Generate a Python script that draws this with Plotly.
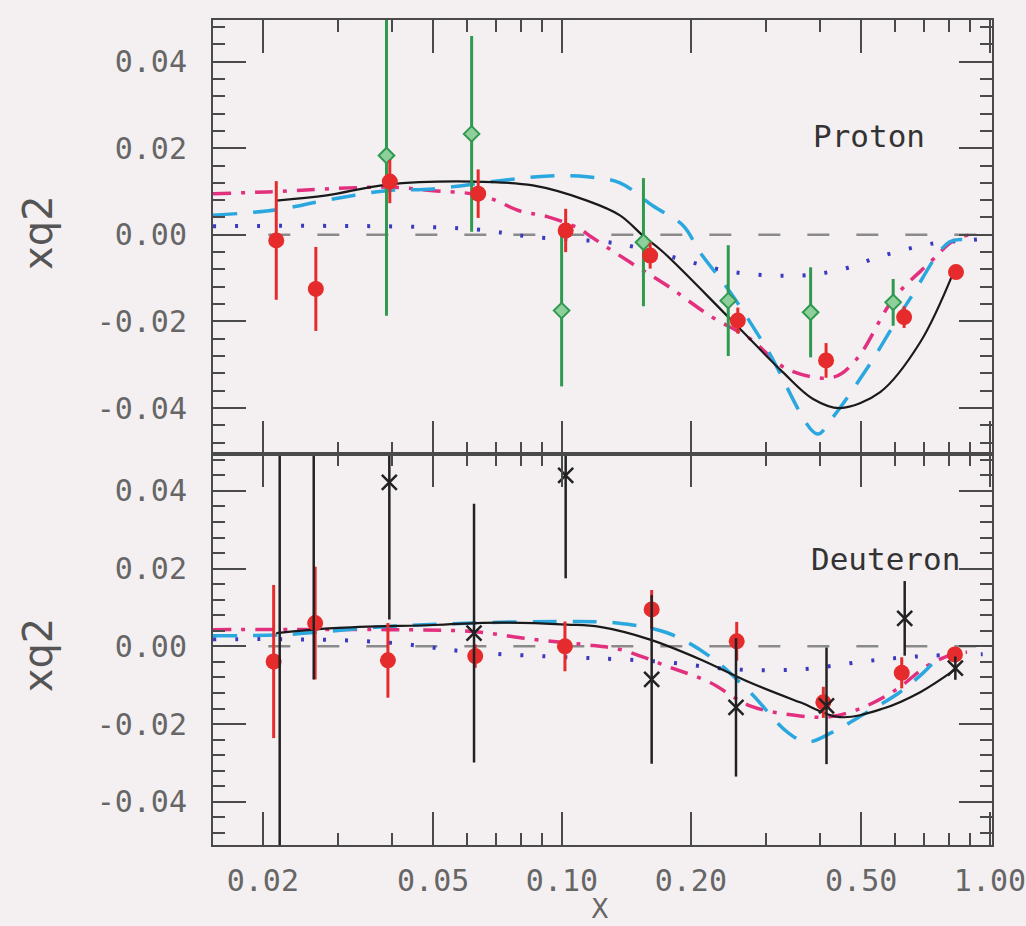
import plotly.graph_objects as go

# ---------------- data ----------------
# Proton panel: red circles
p_red_x = [0.0215, 0.0266, 0.0396, 0.0637, 0.102, 0.1607, 0.2575, 0.414, 0.63, 0.833]
p_red_y = [-0.0013, -0.0125, 0.0123, 0.0095, 0.001, -0.0048, -0.0198, -0.029, -0.019, -0.0086]
p_red_e = [0.0137, 0.0097, 0.005, 0.0056, 0.005, 0.003, 0.003, 0.004, 0.0025, 0.0012]
# Proton panel: green diamonds
p_grn_x = [0.0389, 0.0615, 0.0998, 0.155, 0.2446, 0.381, 0.594]
p_grn_y = [0.0183, 0.0233, -0.0175, -0.0017, -0.0152, -0.0179, -0.0156]
p_grn_e = [0.037, 0.0226, 0.0175, 0.0148, 0.0128, 0.0104, 0.0054]

# Proton panel curves
p_blk_x = [0.0215, 0.0282, 0.039, 0.062, 0.0855, 0.1144, 0.1366, 0.1546, 0.172, 0.247, 0.328, 0.386, 0.446, 0.554, 0.687, 0.822]
p_blk_y = [0.0079, 0.0091, 0.0116, 0.0123, 0.0114, 0.0079, 0.0045, -0.0002, -0.0039, -0.0194, -0.0317, -0.0379, -0.0400, -0.0363, -0.0248, -0.0086]
p_cyan_x = [0.0153, 0.0216, 0.0282, 0.039, 0.05, 0.0716, 0.0937, 0.1144, 0.1366, 0.163, 0.192, 0.21, 0.247, 0.301, 0.395, 0.4226, 0.515, 0.65, 0.8055, 0.896]
p_cyan_y = [0.0045, 0.0058, 0.0080, 0.0102, 0.0106, 0.0125, 0.0136, 0.0134, 0.0120, 0.0067, 0.0021, -0.004, -0.0132, -0.0263, -0.046, -0.043, -0.031, -0.0148, -0.0016, -0.0013]
p_mag_x = [0.0153, 0.0205, 0.039, 0.05, 0.0654, 0.0798, 0.0923, 0.110, 0.116, 0.144, 0.176, 0.2217, 0.275, 0.3357, 0.430, 0.488, 0.5946, 0.7255, 0.822, 0.896]
p_mag_y = [0.0095, 0.0099, 0.011, 0.0102, 0.009, 0.0055, 0.0042, 0.0014, -0.0002, -0.0063, -0.0117, -0.0187, -0.024, -0.031, -0.0329, -0.0287, -0.0148, -0.0063, -0.0013, 0.0]
p_dot_x = [0.0153, 0.060, 0.0855, 0.1345, 0.176, 0.251, 0.360, 0.4536, 0.563, 0.7356, 0.8837, 0.95]
p_dot_y = [0.0020, 0.0014, -0.0005, -0.002, -0.0048, -0.0086, -0.0094, -0.0079, -0.0048, -0.002, -0.0013, -0.0010]

# Deuteron panel: red circles
d_red_x = [0.0212, 0.0265, 0.0392, 0.0627, 0.1016, 0.162, 0.256, 0.408, 0.622, 0.828]
d_red_y = [-0.0039, 0.006, -0.0036, -0.0025, 0.0, 0.0095, 0.0013, -0.0144, -0.0068, -0.0021]
d_red_e = [0.0197, 0.0145, 0.0096, 0.003, 0.0064, 0.005, 0.005, 0.004, 0.004, 0.0015]
# Deuteron panel: black crosses (first two lie off scale)
d_blk_x = [0.0219, 0.0263, 0.0395, 0.0623, 0.102, 0.162, 0.255, 0.415, 0.632, 0.83]
d_blk_y = [-0.08, 0.07, 0.0422, 0.0034, 0.044, -0.0085, -0.0157, -0.0153, 0.0072, -0.0056]
d_blk_e = [0.14, 0.0785, 0.0353, 0.0333, 0.0265, 0.0217, 0.0178, 0.015, 0.0096, 0.003]

# Deuteron panel curves
d_sol_x = [0.0215, 0.0292, 0.05, 0.0716, 0.1027, 0.1227, 0.160, 0.21, 0.275, 0.36, 0.446, 0.563, 0.687, 0.828]
d_sol_y = [0.0034, 0.0047, 0.0055, 0.0061, 0.0056, 0.0050, 0.0018, -0.0033, -0.0093, -0.0144, -0.0182, -0.016, -0.0118, -0.006]
d_cyan_x = [0.0153, 0.0223, 0.039, 0.062, 0.1027, 0.1345, 0.176, 0.2217, 0.275, 0.3357, 0.374, 0.430, 0.515, 0.616, 0.70, 0.74]
d_cyan_y = [0.0027, 0.003, 0.0051, 0.006, 0.0064, 0.006, 0.0035, -0.0026, -0.0118, -0.022, -0.0246, -0.022, -0.017, -0.0118, -0.0067, -0.004]
d_mag_x = [0.0153, 0.039, 0.062, 0.0855, 0.112, 0.1366, 0.176, 0.2217, 0.275, 0.36, 0.43, 0.515, 0.606, 0.7135, 0.822, 0.884]
d_mag_y = [0.0043, 0.0043, 0.0038, 0.0018, 0.0005, -0.0008, -0.0051, -0.0093, -0.0153, -0.0179, -0.018, -0.0153, -0.011, -0.005, -0.002, -0.0015]
d_dot_x = [0.0153, 0.0244, 0.039, 0.062, 0.1027, 0.1345, 0.176, 0.251, 0.36, 0.515, 0.674, 0.9614]
d_dot_y = [0.0018, 0.0018, 0.001, -0.0015, -0.0028, -0.0033, -0.0041, -0.0059, -0.0059, -0.0038, -0.0026, -0.002]

zero_x = [0.0206, 1.0]
zero_y = [0.0, 0.0]

x_major = [0.02, 0.05, 0.10, 0.20, 0.50, 1.00]
x_major_text = ["0.02", "0.05", "0.10", "0.20", "0.50", "1.00"]
x_minor = [0.03, 0.04, 0.06, 0.07, 0.08, 0.09, 0.3, 0.4, 0.6, 0.7, 0.8, 0.9]
y_major = [-0.04, -0.02, 0.0, 0.02, 0.04]
y_major_text = ["-0.04", "-0.02", "0.00", "0.02", "0.04"]

# ---------------- styles ----------------
BG = "#f4f0f1"
AX = "#4a4a4a"
RED = "#e52b2b"
GREEN = "#2f9a4f"
CYAN = "#2ba7df"
MAG = "#e2307f"
DBLUE = "#3a3ac0"
GREY = "#8a8a8a"

fig = go.Figure()

def curves(xa, ya, sets):
    for (xs, ys, color, width, dash) in sets:
        fig.add_trace(go.Scatter(x=xs, y=ys, mode="lines", xaxis=xa, yaxis=ya,
                                 line=dict(color=color, width=width, dash=dash,
                                           shape="spline", smoothing=1.0),
                                 showlegend=False, hoverinfo="skip"))

# Top (proton) panel -> x2 / y2
fig.add_trace(go.Scatter(x=zero_x, y=zero_y, mode="lines", xaxis="x2", yaxis="y2",
                         line=dict(color=GREY, width=2.5, dash="22px,27px"), showlegend=False))
curves("x2", "y2", [
    (p_dot_x, p_dot_y, DBLUE, 4, "3px,19px"),
    (p_mag_x, p_mag_y, MAG, 3.5, "18px,10px,4px,10px"),
    (p_cyan_x, p_cyan_y, CYAN, 3.5, "24px,16px"),
    (p_blk_x, p_blk_y, "#1a1a1a", 2.2, "solid"),
])
fig.add_trace(go.Scatter(x=p_grn_x, y=p_grn_y, mode="markers", xaxis="x2", yaxis="y2",
                         marker=dict(symbol="diamond", size=12, color="#8fcf9c",
                                     line=dict(color=GREEN, width=2)),
                         error_y=dict(type="data", array=p_grn_e, width=0, thickness=3, color=GREEN),
                         showlegend=False))
fig.add_trace(go.Scatter(x=p_red_x, y=p_red_y, mode="markers", xaxis="x2", yaxis="y2",
                         marker=dict(symbol="circle", size=16, color=RED),
                         error_y=dict(type="data", array=p_red_e, width=0, thickness=3, color=RED),
                         showlegend=False))

# Bottom (deuteron) panel -> x / y
fig.add_trace(go.Scatter(x=zero_x, y=zero_y, mode="lines", xaxis="x", yaxis="y",
                         line=dict(color=GREY, width=2.5, dash="22px,27px"), showlegend=False))
curves("x", "y", [
    (d_dot_x, d_dot_y, DBLUE, 4, "3px,19px"),
    (d_mag_x, d_mag_y, MAG, 3.5, "18px,10px,4px,10px"),
    (d_cyan_x, d_cyan_y, CYAN, 3.5, "24px,16px"),
    (d_sol_x, d_sol_y, "#1a1a1a", 2.2, "solid"),
])
fig.add_trace(go.Scatter(x=d_red_x, y=d_red_y, mode="markers", xaxis="x", yaxis="y",
                         marker=dict(symbol="circle", size=16, color=RED),
                         error_y=dict(type="data", array=d_red_e, width=0, thickness=3, color=RED),
                         showlegend=False))
fig.add_trace(go.Scatter(x=d_blk_x, y=d_blk_y, mode="markers", xaxis="x", yaxis="y",
                         marker=dict(symbol="x-thin", size=15, color="#222",
                                     line=dict(color="#222", width=2.5)),
                         error_y=dict(type="data", array=d_blk_e, width=0, thickness=2.5, color="#222"),
                         showlegend=False))

tickfont = dict(family="DejaVu Sans Mono", size=30, color="#666")
xrange = [-1.8154, 0.0047]

def xaxis_common(show_labels):
    return dict(type="log", range=xrange, tickmode="array", tickvals=x_major,
                ticktext=x_major_text, showticklabels=show_labels,
                ticks="inside", ticklen=33, tickwidth=2, tickcolor=AX,
                minor=dict(tickvals=x_minor, ticks="inside", ticklen=12, tickwidth=2, tickcolor=AX),
                showline=True, linecolor=AX, linewidth=2, mirror="allticks",
                showgrid=False, zeroline=False, tickfont=tickfont, ticklabelstandoff=8,
                ticklabeloverflow="allow", automargin=False)

def yaxis_common(domain, rng, anchor):
    return dict(domain=domain, range=rng, anchor=anchor, tickmode="array",
                tickvals=y_major, ticktext=y_major_text,
                ticks="inside", ticklen=33, tickwidth=2, tickcolor=AX,
                minor=dict(dtick=0.004, tick0=0, ticks="inside", ticklen=12, tickwidth=2, tickcolor=AX),
                showline=True, linecolor=AX, linewidth=2, mirror="allticks",
                showgrid=False, zeroline=False, tickfont=tickfont, ticklabelstandoff=18,
                ticklabeloverflow="allow", automargin=False)

def label(text, x, y, family, size, color, angle=0):
    return dict(text=text, xref="paper", yref="paper", x=x, y=y, textangle=angle,
                xanchor="center", yanchor="middle", showarrow=False,
                font=dict(family=family, size=size, color=color))

split = 0.474
fig.update_layout(
    width=1026, height=926,
    margin=dict(l=213, r=34, t=20, b=81, autoexpand=False),
    paper_bgcolor=BG, plot_bgcolor=BG,
    showlegend=False,
    xaxis=dict(anchor="y", **xaxis_common(True)),
    xaxis2=dict(anchor="y2", matches="x", **xaxis_common(False)),
    yaxis=yaxis_common([0, split], [-0.0511, 0.0495], "x"),
    yaxis2=yaxis_common([split, 1], [-0.0506, 0.0496], "x2"),
    annotations=[
        label("Proton", 0.842, 0.859, "DejaVu Sans Mono", 31, "#333"),
        label("Deuteron", 0.863, 0.347, "DejaVu Sans Mono", 31, "#333"),
        label("xq2", -0.2246, 0.742, "DejaVu Sans", 40, "#555", -90),
        label("xq2", -0.2246, 0.230, "DejaVu Sans", 40, "#555", -90),
        label("X", 0.497, -0.0776, "DejaVu Sans", 26, "#666"),
    ],
)

fig.write_html("out.html")
